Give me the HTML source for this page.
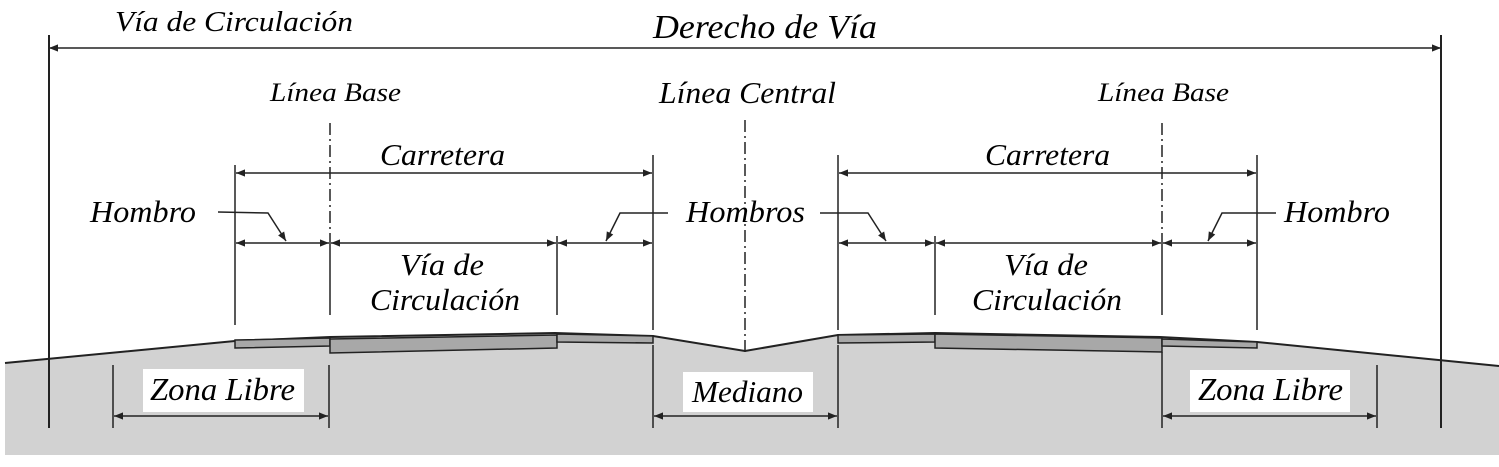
<!DOCTYPE html>
<html><head><meta charset="utf-8"><style>
html,body{margin:0;padding:0;background:#fff;}
svg{display:block;}
text{font-family:"Liberation Serif",serif;font-style:italic;fill:#000;}
</style></head><body>
<svg width="1499" height="467" viewBox="0 0 1499 467" xmlns="http://www.w3.org/2000/svg">
<defs>
<marker id="a" viewBox="0 0 10 10" refX="10" refY="5" markerWidth="16" markerHeight="9" markerUnits="userSpaceOnUse" orient="auto-start-reverse"><path d="M0,1 L10,5 L0,9 z" fill="#222"/></marker>
</defs>
<path d="M5,363 L235,341 L330,337 L555,333 L653,336 L745,351 L838,335 L935,333 L1160,337 L1257,342 L1499,366 L1499,455 L5,455 Z" fill="#d2d2d2"/>
<path d="M5,363 L235,341 L330,337 L555,333 L653,336 L745,351 L838,335 L935,333 L1160,337 L1257,342 L1499,366" fill="none" stroke="#222" stroke-width="2"/>
<g fill="#a8a8a8" stroke="#222" stroke-width="1.5">
<path d="M235,340 L330,338 L330,346 L235,348 Z"/>
<path d="M330,339 L557,335 L557,348 L330,353 Z"/>
<path d="M557,334 L653,336 L653,343 L557,342 Z"/>
<path d="M838,335 L935,334 L935,342 L838,343 Z"/>
<path d="M935,334 L1162,338 L1162,352 L935,348 Z"/>
<path d="M1162,339 L1257,342 L1257,348 L1162,346 Z"/>
</g>
<g stroke="#222" stroke-width="1.5" fill="none">
<line x1="49" y1="35" x2="49" y2="428" stroke-width="2"/>
<line x1="1441" y1="35" x2="1441" y2="428" stroke-width="2"/>
<line x1="49" y1="48" x2="1441" y2="48" marker-start="url(#a)" marker-end="url(#a)"/>
<line x1="330" y1="123" x2="330" y2="235" stroke-dasharray="12,4,2,4"/>
<line x1="745" y1="120" x2="745" y2="352" stroke-dasharray="12,4,2,4"/>
<line x1="1162" y1="123" x2="1162" y2="235" stroke-dasharray="12,4,2,4"/>
<line x1="235" y1="165" x2="235" y2="325"/>
<line x1="653" y1="155" x2="653" y2="330"/>
<line x1="330" y1="235" x2="330" y2="315"/>
<line x1="557" y1="236" x2="557" y2="315"/>
<line x1="838" y1="155" x2="838" y2="330"/>
<line x1="935" y1="236" x2="935" y2="315"/>
<line x1="1162" y1="235" x2="1162" y2="315"/>
<line x1="1257" y1="155" x2="1257" y2="330"/>
<line x1="236" y1="173" x2="652" y2="173" marker-start="url(#a)" marker-end="url(#a)"/>
<line x1="839" y1="173" x2="1256" y2="173" marker-start="url(#a)" marker-end="url(#a)"/>
<line x1="236" y1="243" x2="329" y2="243" marker-start="url(#a)" marker-end="url(#a)"/>
<line x1="331" y1="243" x2="556" y2="243" marker-start="url(#a)" marker-end="url(#a)"/>
<line x1="558" y1="243" x2="652" y2="243" marker-start="url(#a)" marker-end="url(#a)"/>
<line x1="839" y1="243" x2="934" y2="243" marker-start="url(#a)" marker-end="url(#a)"/>
<line x1="936" y1="243" x2="1161" y2="243" marker-start="url(#a)" marker-end="url(#a)"/>
<line x1="1163" y1="243" x2="1256" y2="243" marker-start="url(#a)" marker-end="url(#a)"/>
<polyline points="218,212 268,213 286,241" marker-end="url(#a)"/>
<polyline points="668,213 620,213 606,241" marker-end="url(#a)"/>
<polyline points="820,213 868,213 886,241" marker-end="url(#a)"/>
<polyline points="1276,213 1222,213 1208,241" marker-end="url(#a)"/>
<line x1="113" y1="365" x2="113" y2="428"/>
<line x1="329" y1="365" x2="329" y2="428"/>
<line x1="653" y1="345" x2="653" y2="428"/>
<line x1="838" y1="345" x2="838" y2="428"/>
<line x1="1162" y1="352" x2="1162" y2="428"/>
<line x1="1377" y1="365" x2="1377" y2="428"/>
<line x1="114" y1="416" x2="328" y2="416" marker-start="url(#a)" marker-end="url(#a)"/>
<line x1="654" y1="416" x2="837" y2="416" marker-start="url(#a)" marker-end="url(#a)"/>
<line x1="1163" y1="416" x2="1376" y2="416" marker-start="url(#a)" marker-end="url(#a)"/>
</g>
<rect x="143" y="369" width="161" height="43" fill="#fff"/>
<rect x="683" y="372" width="130" height="40" fill="#fff"/>
<rect x="1190" y="370" width="160" height="42" fill="#fff"/>
<g lengthAdjust="spacingAndGlyphs">
<text x="115" y="31" font-size="28" textLength="238" lengthAdjust="spacingAndGlyphs">Vía de Circulación</text>
<text x="653" y="38" font-size="34" textLength="224" lengthAdjust="spacingAndGlyphs">Derecho de Vía</text>
<text x="270" y="101" font-size="26" textLength="131" lengthAdjust="spacingAndGlyphs">Línea Base</text>
<text x="659" y="103" font-size="31" textLength="177" lengthAdjust="spacingAndGlyphs">Línea Central</text>
<text x="1098" y="101" font-size="26" textLength="131" lengthAdjust="spacingAndGlyphs">Línea Base</text>
<text x="380" y="165" font-size="31" textLength="125" lengthAdjust="spacingAndGlyphs">Carretera</text>
<text x="985" y="165" font-size="31" textLength="125" lengthAdjust="spacingAndGlyphs">Carretera</text>
<text x="90" y="222" font-size="31" textLength="106" lengthAdjust="spacingAndGlyphs">Hombro</text>
<text x="686" y="222" font-size="31" textLength="119" lengthAdjust="spacingAndGlyphs">Hombros</text>
<text x="1284" y="222" font-size="31" textLength="106" lengthAdjust="spacingAndGlyphs">Hombro</text>
<text x="400" y="275" font-size="31" textLength="84" lengthAdjust="spacingAndGlyphs">Vía de</text>
<text x="370" y="310" font-size="31" textLength="150" lengthAdjust="spacingAndGlyphs">Circulación</text>
<text x="1004" y="275" font-size="31" textLength="84" lengthAdjust="spacingAndGlyphs">Vía de</text>
<text x="972" y="310" font-size="31" textLength="150" lengthAdjust="spacingAndGlyphs">Circulación</text>
<text x="150" y="400" font-size="32" textLength="145" lengthAdjust="spacingAndGlyphs">Zona Libre</text>
<text x="692" y="402" font-size="31" textLength="111" lengthAdjust="spacingAndGlyphs">Mediano</text>
<text x="1198" y="400" font-size="32" textLength="145" lengthAdjust="spacingAndGlyphs">Zona Libre</text>
</g>
</svg>
</body></html>
